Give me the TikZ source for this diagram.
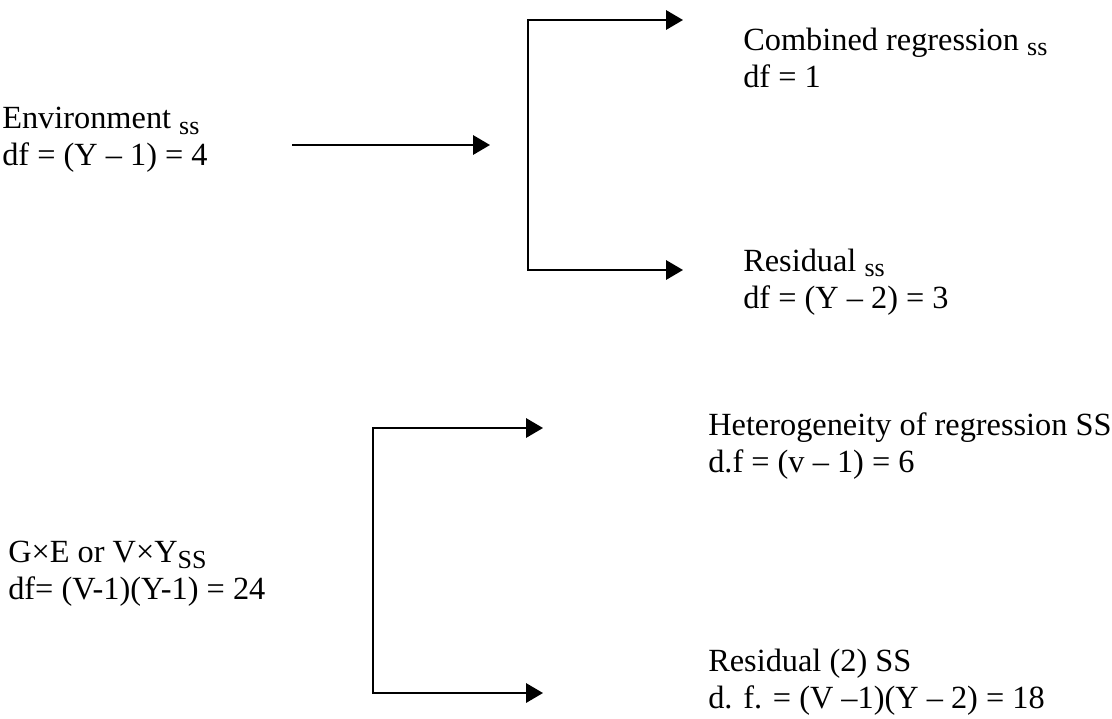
\documentclass[tikz,border=0pt]{standalone}
\usepackage{fontspec}
\setmainfont{Liberation Serif}
\usetikzlibrary{arrows.meta,positioning,calc}
\definecolor{ink}{RGB}{0,0,0}
\newcommand{\sstag}[1]{\raisebox{-0.35ex}{\fontsize{18.5}{18.5}\selectfont #1}}
\tikzset{
	flow/.style={-{Triangle[length=0.42cm,width=0.48cm]},line width=1.4pt,draw=ink},
	fork/.style={{Triangle[length=0.42cm,width=0.48cm]}-{Triangle[length=0.42cm,width=0.48cm]},
		line width=1.4pt,draw=ink},
	term/.style={align=left,anchor=west,inner sep=0pt,text=ink,
		font=\fontsize{23}{26}\selectfont},
}

\begin{document}
\begin{tikzpicture}[x=0.025cm,y=-0.025cm]
		\useasboundingbox (0,0) rectangle (1112,718);
		
		% left-hand sums of squares
		\node[term] (env) at (2,140) {Environment \sstag{ss}\\df = (Y -- 1) = 4};
		\node[term] (gxe) at (8,574) {G×E or V×Y\sstag{SS}\\df= (V-1)(Y-1) = 24};
		
		% partitioned terms
		\node[term] (comb) at (743,58) {Combined regression \sstag{ss}\\df = 1};
		\node[term] (resid) at (743,282) {Residual \sstag{ss}\\df = (Y -- 2) = 3};
		\node[term] (het) at (708,446) {Heterogeneity of regression SS\\d.f = (v -- 1) = 6};
		\node[term] (residtwo) at (708,682) {Residual (2) SS\\d. f. = (V --1)(Y -- 2) = 18};
		
		\coordinate (envout) at (292,145);
		\coordinate (envin) at (490,145);
		\coordinate (combin) at (683,20);
		\coordinate (residin) at (683,270);
		\coordinate (hetin) at (543,428);
		\coordinate (residtwoin) at (543,693);
		
		\draw[flow] (envout) -- (envin);
		\draw[fork] (combin) -- (528,20) -- (528,270) -- (residin);
		\draw[fork] (hetin) -- (373,428) -- (373,693) -- (residtwoin);
		
	\end{tikzpicture}
\end{document}
